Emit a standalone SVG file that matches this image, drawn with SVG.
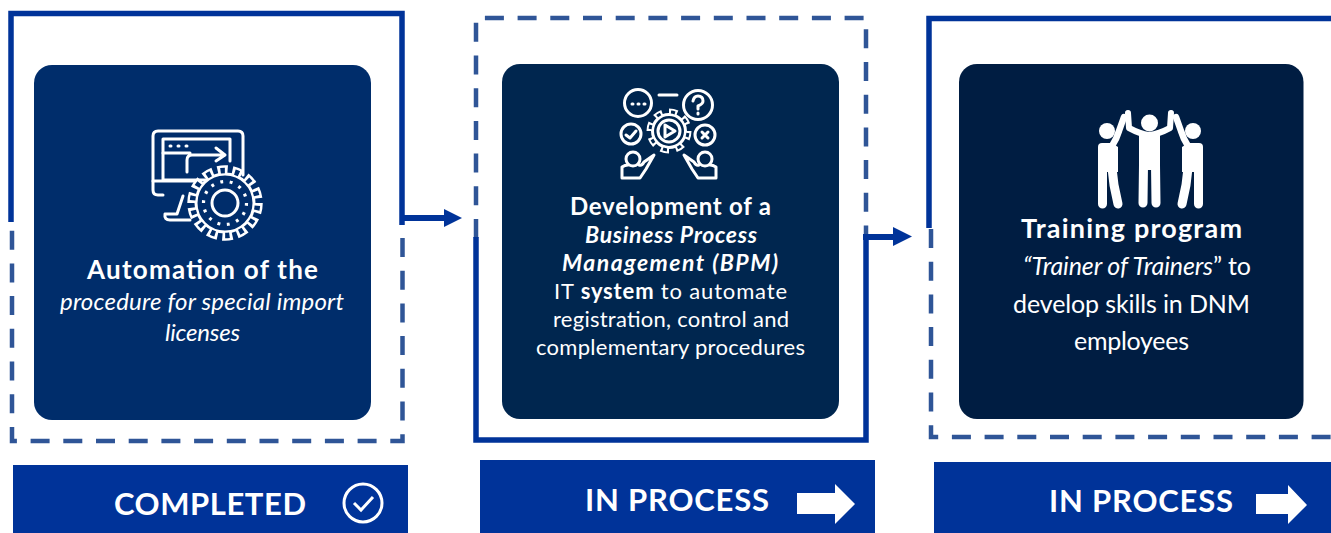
<svg xmlns="http://www.w3.org/2000/svg" width="1331" height="533" viewBox="0 0 1331 533">
<style>
text{font-family:Lato,"Liberation Sans",sans-serif;fill:#fff;text-anchor:middle}
.solid{fill:none;stroke:#003399;stroke-width:5.5}
.dash{fill:none;stroke:#2f5597;stroke-width:4.5;stroke-dasharray:19 13.7}
.bar{fill:#003399}
.b{font-weight:700}
.i{font-style:italic;font-weight:400}
.bi{font-style:italic;font-weight:700}
.lab{font-weight:700;font-size:31px}
.ic{fill:none;stroke:#fff;stroke-width:3;stroke-linecap:round;stroke-linejoin:round}
.wf{fill:#fff}
.limb{fill:none;stroke:#fff;stroke-linecap:round;stroke-linejoin:round}
</style>
<g id="node-automation">
<path class="solid" d="M11 222V13.500H402V225"/>
<path class="dash" d="M402.500 238V441H12V222"/>
<rect x="34" y="65" width="337" height="355" rx="18" fill="#002d6b"/>
<g class="ic">
<path d="M163 195H158Q153 195 153 190V136Q153 131 158 131H238Q243 131 243 136V175"/>
<path d="M230 161V139H163V180H205"/>
<path d="M153 181H200M163 153H190M187 172V160Q187 155 192 155H224M216 148L225 155L216 161M183 196L177 214H165Q164 220 170 220H190"/>
<path d="M170 146H171M178 146H179M186 146H187"/>
<circle cx="225" cy="203" r="33" pathLength="140" stroke="#fff" stroke-width="9.500" stroke-dasharray="6.800 3.200" stroke-linecap="butt"/>
<circle cx="225" cy="203" r="29" fill="#002d6b"/>
<circle cx="225" cy="203" r="32.500" pathLength="140" stroke="#002d6b" stroke-width="5.500" stroke-dasharray="3 7" stroke-dashoffset="-1.900" stroke-linecap="butt"/>
<circle cx="225" cy="203" r="13"/>
<circle cx="225" cy="203" r="21.500" pathLength="140" stroke-width="3.200" stroke-dasharray="3 7" stroke-linecap="butt"/>
</g>
<text class="b" x="202.500" y="279" font-size="26" textLength="231">Automation of the</text>
<text class="i" x="202" y="310" font-size="24" textLength="284">procedure for special import</text>
<text class="i" x="202.500" y="341" font-size="24" textLength="75">licenses</text>
</g>
<g id="node-bpm">
<path class="dash" d="M476 238V18H866V238"/>
<path class="solid" d="M476 237V440H866V238"/>
<rect x="502" y="64" width="337" height="355" rx="18" fill="#00264f"/>
<g class="ic">
<circle cx="638" cy="103" r="13.500"/>
<path d="M632 104H633M638 104H639M644 104H645"/>
<path d="M659 95H677"/>
<circle cx="698" cy="105" r="14.500"/>
<path d="M693 101Q694 96 698 96Q703 96 703 101Q703 104 698 106V109M698 113V114"/>
<circle cx="631" cy="134" r="10"/>
<path d="M626 135L630 138L636 131"/>
<circle cx="705" cy="135" r="10"/>
<path d="M702 132L708 138M708 132L702 138"/>
<circle cx="669" cy="131" r="19" pathLength="80" stroke-width="7" stroke-dasharray="5.500 4.500" stroke-linecap="butt"/>
<circle cx="669" cy="131" r="16.500" fill="#00264f"/>
<circle cx="669" cy="131" r="19" pathLength="80" stroke="#00264f" stroke-width="3" stroke-dasharray="2.700 7.300" stroke-dashoffset="-1.400" stroke-linecap="butt"/>
<circle cx="669" cy="131" r="11"/>
<path d="M665 125V137L675 131Z"/>
<circle cx="633" cy="159" r="7"/>
<path d="M622 178V167Q625 165 628 165M639 165Q642 166 644 162L654 155L646 169L640 178H622"/>
<circle cx="705" cy="159" r="7"/>
<path d="M716 178V167Q713 165 710 165M699 165Q696 166 694 162L684 155L692 169L698 178H716"/>
</g>
<text class="b" x="670.500" y="215" font-size="24" textLength="201">Development of a</text>
<text class="bi" x="671" y="243" font-size="23" textLength="172">Business Process</text>
<text class="bi" x="670" y="271" font-size="23" textLength="216">Management (BPM)</text>
<text x="670.500" y="299" font-size="22" textLength="233">IT <tspan class="b">system</tspan> to automate</text>
<text x="671" y="327" font-size="22" textLength="236">registration, control and</text>
<text x="670.500" y="355" font-size="22" textLength="269">complementary procedures</text>
</g>
<g id="node-training">
<path class="solid" d="M929 228V18.500H1331"/>
<path class="dash" d="M931 229V437H1331"/>
<rect x="959" y="64" width="344.500" height="355" rx="18" fill="#001d42"/>
<circle class="wf" cx="1149.500" cy="123" r="8.500"/>
<path class="wf" d="M1139 133H1160V170H1139Z"/>
<path class="limb" stroke-width="6" d="M1128 113L1129 128Q1140 134 1149 135Q1159 134 1170 128L1171 113"/>
<path class="limb" stroke-width="9" d="M1143.500 165L1143 203M1155.500 165L1156 203"/>
<circle class="wf" cx="1107" cy="131" r="8"/>
<path class="wf" d="M1098 147Q1098 143 1102 143H1112L1118 147V172H1098Z"/>
<path class="limb" stroke-width="6.500" d="M1112 146Q1117 138 1119 131L1124 117"/>
<path class="limb" stroke-width="9" d="M1102.500 168V204M1112 168L1114 185L1118 204"/>
<circle class="wf" cx="1193" cy="131" r="8"/>
<path class="wf" d="M1203 147Q1203 143 1199 143H1188L1182 147V172H1203Z"/>
<path class="limb" stroke-width="6.500" d="M1188 146Q1183 138 1181 131L1176 117"/>
<path class="limb" stroke-width="9" d="M1198.500 168V204M1188 168L1186 185L1182 204"/>
<text class="b" x="1131.500" y="238" font-size="27" textLength="221">Training program</text>
<text x="1137" y="275" font-size="25" textLength="228"><tspan class="i">“Trainer of Trainers</tspan>” to</text>
<text x="1131.500" y="313" font-size="25" textLength="237">develop skills in DNM</text>
<text x="1131.500" y="350" font-size="25" textLength="115">employees</text>
</g>
<g id="connectors">
<path d="M402 218H445" fill="none" stroke="#003399" stroke-width="6"/>
<path d="M444 209L462 218L444 227Z" fill="#003399"/>
<path d="M863 237H895" fill="none" stroke="#003399" stroke-width="6"/>
<path d="M893 227L912 236.500L893 246Z" fill="#003399"/>
</g>
<g id="status-completed">
<rect class="bar" x="13" y="465" width="395" height="68"/>
<text class="lab" x="210" y="515" textLength="192">COMPLETED</text>
<circle cx="363" cy="503" r="19" fill="none" stroke="#fff" stroke-width="3"/>
<path d="M354 503L361 510L373 497" fill="none" stroke="#fff" stroke-width="3"/>
</g>
<g id="status-bpm">
<rect class="bar" x="480" y="460" width="395" height="73"/>
<text class="lab" x="677" y="511" textLength="184">IN PROCESS</text>
<path class="wf" d="M797 493H835V484L855 504L835 524V514H797Z"/>
</g>
<g id="status-training">
<rect class="bar" x="934" y="462" width="397" height="71"/>
<text class="lab" x="1141" y="512" textLength="184">IN PROCESS</text>
<path class="wf" d="M1256 494H1288V485L1307 505L1288 524V514H1256Z"/>
</g>
</svg>
